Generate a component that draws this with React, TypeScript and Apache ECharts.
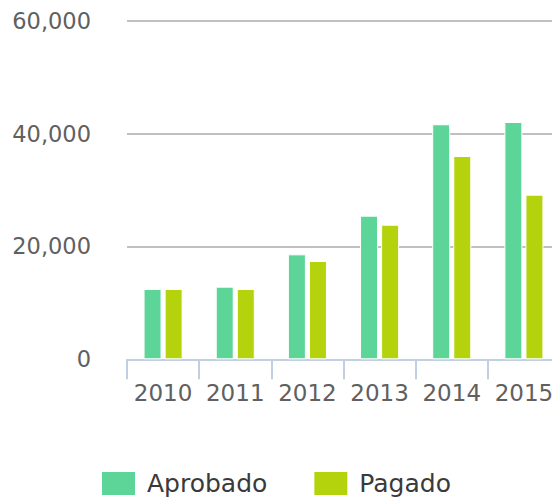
import React, { useEffect, useRef } from "react";
import * as echarts from "echarts";

const categories = ["2010", "2011", "2012", "2013", "2014", "2015"];
const aprobado = [12460, 12870, 18600, 25450, 41650, 42050];
const pagado = [12460, 12460, 17420, 23850, 36020, 29170];
const yTicks = [0, 20000, 40000, 60000];

const FONT = "DejaVu Sans, Verdana, sans-serif";

export default function App() {
  const ref = useRef<HTMLDivElement>(null);
  useEffect(() => {
    if (!ref.current) return;
    const chart = echarts.init(ref.current, undefined, { renderer: "svg" });
    chart.setOption({
      animation: false,
      backgroundColor: "#ffffff",
      grid: { left: 127, top: 20.7, width: 433, height: 338.6, containLabel: false, outerBoundsMode: "none" },
      legend: {
        data: ["Aprobado", "Pagado"],
        left: 100,
        top: 470,
        padding: 0,
        itemWidth: 35,
        itemHeight: 25,
        itemGap: 45,
        icon: "rect",
        textStyle: { fontFamily: FONT, fontSize: 25, color: "#3a3a3a", padding: [0, 0, 0, 6] },
      },
      xAxis: {
        type: "category",
        data: categories,
        axisLine: { lineStyle: { color: "#C0D0E0", width: 2 } },
        axisTick: { show: true, length: 20, interval: 0, lineStyle: { color: "#C0D0E0", width: 2 } },
        axisLabel: { fontFamily: FONT, fontSize: 23, color: "#606060", margin: 22, interval: 0, hideOverlap: false },
      },
      yAxis: {
        type: "value",
        min: yTicks[0],
        max: yTicks[yTicks.length - 1],
        interval: 20000,
        axisLine: { show: false },
        axisTick: { show: false },
        splitLine: { lineStyle: { color: "#C0C0C0", width: 2 } },
        axisLabel: {
          fontFamily: FONT,
          fontSize: 22.5,
          color: "#606060",
          margin: 36,
          formatter: (v: number) => v.toLocaleString("en-US"),
        },
      },
      series: [
        {
          name: "Aprobado",
          type: "bar",
          data: aprobado,
          barWidth: 18,
          barGap: "17%",
          itemStyle: { color: "#5dd598", borderColor: "#ffffff", borderWidth: 1 },
        },
        {
          name: "Pagado",
          type: "bar",
          data: pagado,
          barWidth: 18,
          barGap: "17%",
          itemStyle: { color: "#b4d30d", borderColor: "#ffffff", borderWidth: 1 },
        },
      ],
    });
    return () => chart.dispose();
  }, []);
  return <div ref={ref} style={{ width: 552, height: 498, position: "absolute", left: 0, top: 0 }} />;
}
